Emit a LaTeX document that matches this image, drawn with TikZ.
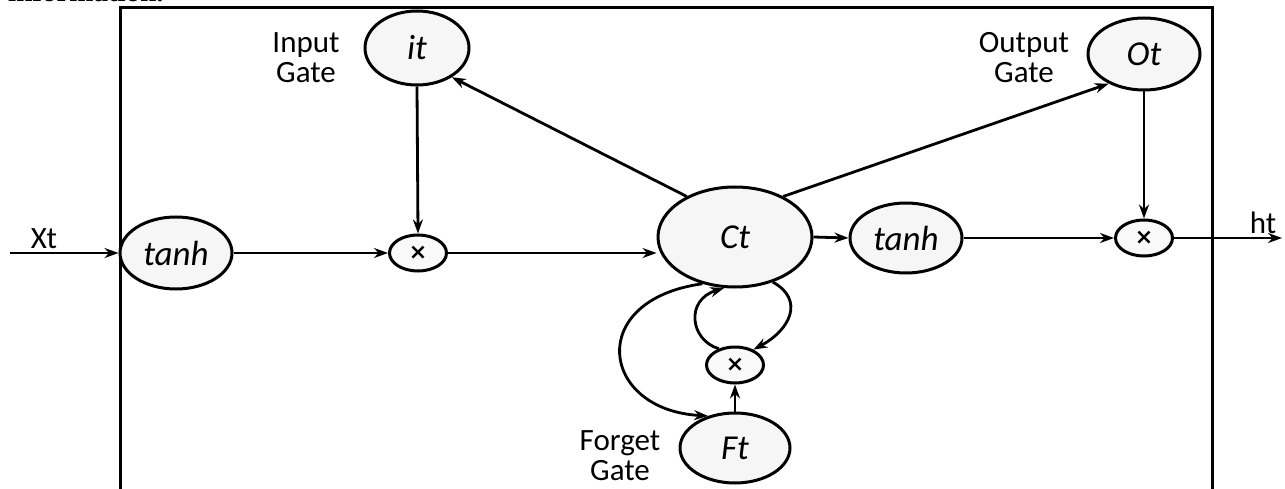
\documentclass[tikz,border=0pt]{standalone}
\usepackage{fontspec}
\setmainfont{Carlito}
\newfontfamily\serifbold{Liberation Serif}
\newfontfamily\dejavu{DejaVu Sans}
\usetikzlibrary{arrows.meta,shapes.geometric}
\begin{document}
\begin{tikzpicture}[x=1pt,y=-1pt,
  gate/.style={ellipse,draw,line width=3pt,fill=gray!7,inner sep=0pt,font=\fontsize{35}{40}\selectfont\itshape},
  mult/.style={ellipse,draw,line width=3pt,fill=gray!5,inner sep=0pt,minimum width=57pt,minimum height=36pt,font=\dejavu\bfseries\fontsize{22}{24}\selectfont},
  lbl/.style={font=\fontsize{31}{30}\selectfont,align=center},
  conn/.style={line width=2.8pt,-{Stealth[length=14pt,width=10pt]}}]
\useasboundingbox (0,0) rectangle (1285,489);
\node[anchor=base west,inner sep=0pt,font=\serifbold\bfseries\fontsize{29}{30}\selectfont] (info) at (8,2) {information.};
% frame
\draw[line width=3pt] (120,489) -- (120,8) -- (1212,8) -- (1212,489);
% nodes
\node[gate,minimum width=112pt,minimum height=72pt] (tanh1) at (176,253) {tanh};
\node[gate,minimum width=104pt,minimum height=74pt] (it) at (417,48) {it};
\node[mult] (m1) at (418,253) {×};
\node[gate,minimum width=154pt,minimum height=100pt] (ct) at (735,237) {Ct};
\node[gate,minimum width=112pt,minimum height=70pt] (tanh2) at (906,238) {tanh};
\node[mult] (m3) at (1144,238) {×};
\node[gate,minimum width=112pt,minimum height=72pt] (ot) at (1144,54) {Ot};
\node[mult] (m2) at (735,365) {×};
\node[gate,minimum width=110pt,minimum height=70pt] (ft) at (735,448) {Ft};
% labels
\node[lbl] (inl) at (306,58) {Input\\Gate};
\node[lbl] (outl) at (1024,58) {Output\\Gate};
\node[lbl] (fgl) at (620,456) {Forget\\Gate};
\coordinate (xin) at (10,253);
\coordinate (hout) at (1282,238);
\node[lbl,anchor=south] (xt) at (44,252) {Xt};
\node[lbl,anchor=south] (ht) at (1263,237) {ht};
% connectors
\draw[conn] (xin) -- (tanh1.west);
\draw[conn] (tanh1.east) -- (m1.west);
\draw[conn] (m1.east) -- (ct.west |- m1.east);
\draw[conn] (it.south) -- (m1.north);
\draw[conn] (ct.140) -- (it.-40);
\draw[conn] (ct.40) -- (ot.-140);
\draw[conn] (ct.east) -- (tanh2.west);
\draw[conn] (tanh2.east) -- (m3.west);
\draw[conn] (ot.south) -- (m3.north);
\draw[conn] (m3.east) -- (hout);
\draw[conn] (ft.north) -- (m2.south);
\draw[conn] (ct.235) .. controls (585,300) and (600,410) .. (ft.130);
\draw[conn] (m2.135) .. controls (690,340) and (685,300) .. (ct.258);
\draw[conn] (ct.-50) .. controls (805,300) and (790,330) .. (m2.40);
\end{tikzpicture}
\end{document}
